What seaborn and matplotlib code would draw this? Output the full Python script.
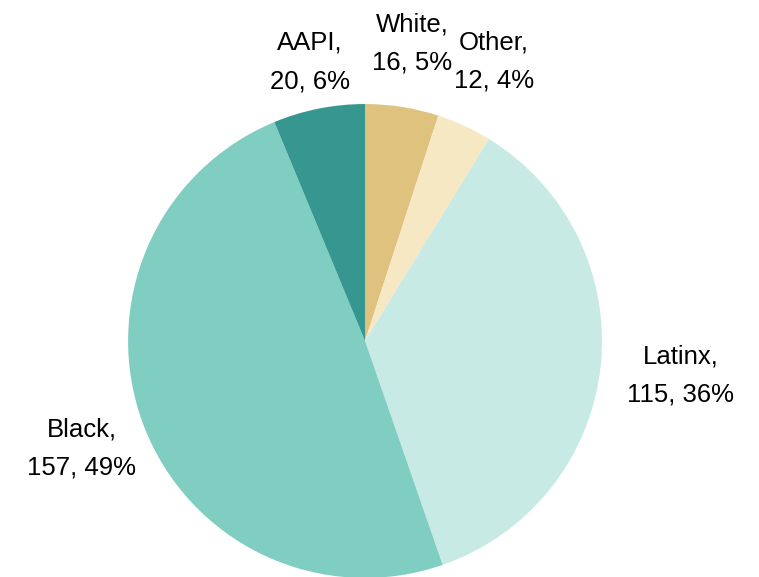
"""Pie chart of participants by race/ethnicity."""
import numpy as np
import matplotlib
matplotlib.use("Agg")
import matplotlib.pyplot as plt
import seaborn as sns

groups = ["White", "Other", "Latinx", "Black", "AAPI"]
counts = [16, 12, 115, 157, 20]
percents = [5, 4, 36, 49, 6]
colors = ["#DFC27D", "#F6E8C3", "#C7EAE5", "#80CDC1", "#35978F"]
label_dist = [1.27, 1.30, 1.34, 1.28, 1.20]

sns.set_theme(style="white")
plt.rcParams["font.family"] = ["Liberation Sans", "DejaVu Sans"]

fig = plt.figure(figsize=(7.59, 5.77), dpi=100)
ax = fig.add_axes([0, 0, 1, 1])

wedges, _ = ax.pie(counts, colors=colors, startangle=90, counterclock=False,
                   radius=1.0, center=(0, 0), wedgeprops={"linewidth": 0})

for w, g, c, p, d in zip(wedges, groups, counts, percents, label_dist):
    mid = np.deg2rad((w.theta1 + w.theta2) / 2)
    ax.text(d * np.cos(mid), d * np.sin(mid), f"{g},\n{c}, {p}%",
            ha="center", va="center", fontsize=18.5, linespacing=1.75, color="black")

ax.set_xlim(-1.540, 1.662)
ax.set_ylim(-0.996, 1.439)
ax.axis("off")

fig.savefig("out.png", dpi=100, facecolor="white")
